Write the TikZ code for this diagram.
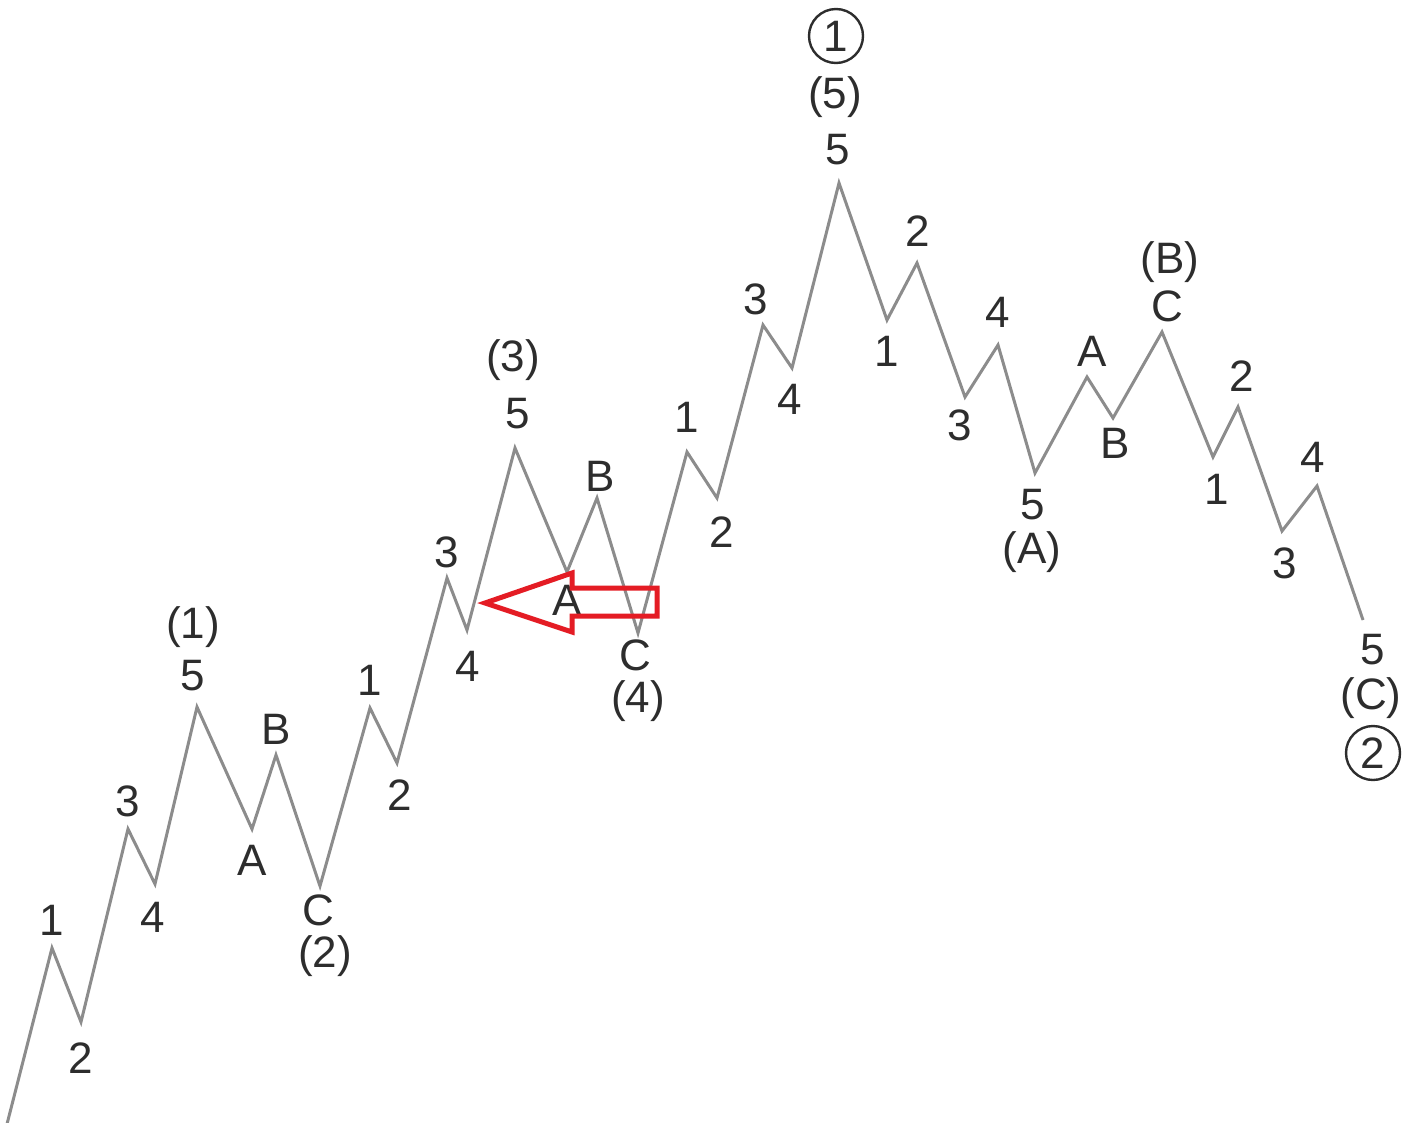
\documentclass[tikz,border=0pt]{standalone}
\usepackage{fontspec}
\setmainfont{Liberation Sans}
\definecolor{wavegray}{RGB}{140,140,140}
\definecolor{labelgray}{RGB}{45,45,45}
\definecolor{arrowred}{RGB}{228,28,36}
\begin{document}
\begin{tikzpicture}[x=1pt,y=-1pt,
  wave/.style={draw=wavegray,line width=3pt,line join=miter},
  lbl/.style={inner sep=0pt,text=labelgray,font=\fontsize{44}{48}\selectfont},
  circ/.style={lbl,draw=labelgray,circle,line width=2.4pt,minimum size=54pt},
  redarrow/.style={draw=arrowred,line width=5pt,line join=miter}]
\useasboundingbox (0,0) rectangle (1415,1122);
% wave vertices
\coordinate (w0) at (6,1128);
\coordinate (w1) at (52,948);
\coordinate (w2) at (81,1022);
\coordinate (w3) at (128,829);
\coordinate (w4) at (155,884);
\coordinate (w5) at (197,707);
\coordinate (wA) at (252,829);
\coordinate (wB) at (276,755);
\coordinate (wC) at (320,886);
\coordinate (x1) at (370,708);
\coordinate (x2) at (397,763);
\coordinate (x3) at (447,578);
\coordinate (x4) at (467,630);
\coordinate (x5) at (515,448);
\coordinate (xA) at (567,572);
\coordinate (xB) at (597,498);
\coordinate (xC) at (638,633);
\coordinate (y1) at (687,452);
\coordinate (y2) at (717,498);
\coordinate (y3) at (763,325);
\coordinate (y4) at (792,368);
\coordinate (y5) at (839,183);
\coordinate (z1) at (887,320);
\coordinate (z2) at (917,263);
\coordinate (z3) at (965,397);
\coordinate (z4) at (998,345);
\coordinate (z5) at (1035,473);
\coordinate (zA) at (1087,377);
\coordinate (zB) at (1113,418);
\coordinate (zC) at (1162,332);
\coordinate (v1) at (1213,457);
\coordinate (v2) at (1238,407);
\coordinate (v3) at (1282,531);
\coordinate (v4) at (1317,486);
\coordinate (v5) at (1363,620);
\draw[wave] (w0) -- (w1) -- (w2) -- (w3) -- (w4) -- (w5) -- (wA) -- (wB) -- (wC)
  -- (x1) -- (x2) -- (x3) -- (x4) -- (x5) -- (xA) -- (xB) -- (xC)
  -- (y1) -- (y2) -- (y3) -- (y4) -- (y5)
  -- (z1) -- (z2) -- (z3) -- (z4) -- (z5) -- (zA) -- (zB) -- (zC)
  -- (v1) -- (v2) -- (v3) -- (v4) -- (v5);
% labels wave (1) and (2)
\node[lbl] (l1) at (52,920) {1};
\node[lbl] (l2) at (81,1058) {2};
\node[lbl] (l3) at (128,801) {3};
\node[lbl] (l4) at (153,917) {4};
\node[lbl] (l5) at (193,676) {5};
\node[lbl] (lp1) at (193,627) {(1)};
\node[lbl] (lA) at (252,860) {A};
\node[lbl] (lB) at (276,729) {B};
\node[lbl] (lC) at (318,910) {C};
\node[lbl] (lp2) at (325,956) {(2)};
% labels wave (3) and (4)
\node[lbl] (m1) at (370,680) {1};
\node[lbl] (m2) at (400,795) {2};
\node[lbl] (m3) at (447,552) {3};
\node[lbl] (m4) at (468,666) {4};
\node[lbl] (m5) at (518,414) {5};
\node[lbl] (mp3) at (513,360) {(3)};
\node[lbl] (mA) at (567,600) {A};
\node[lbl] (mB) at (600,476) {B};
\node[lbl] (mC) at (635,655) {C};
\node[lbl] (mp4) at (638,701) {(4)};
% labels wave (5)
\node[lbl] (n1) at (687,417) {1};
\node[lbl] (n2) at (722,532) {2};
\node[lbl] (n3) at (756,299) {3};
\node[lbl] (n4) at (790,399) {4};
\node[lbl] (n5) at (838,150) {5};
\node[lbl] (np5) at (835,97) {(5)};
\node[circ] (c1) at (836,36) {1};
% labels wave (A)
\node[lbl] (o1) at (887,351) {1};
\node[lbl] (o2) at (918,231) {2};
\node[lbl] (o3) at (960,425) {3};
\node[lbl] (o4) at (998,312) {4};
\node[lbl] (o5) at (1033,505) {5};
\node[lbl] (opA) at (1032,552) {(A)};
% labels wave (B)
\node[lbl] (pA) at (1092,351) {A};
\node[lbl] (pB) at (1115,443) {B};
\node[lbl] (pC) at (1167,306) {C};
\node[lbl] (ppB) at (1170,262) {(B)};
% labels wave (C)
\node[lbl] (q1) at (1217,489) {1};
\node[lbl] (q2) at (1242,376) {2};
\node[lbl] (q3) at (1285,563) {3};
\node[lbl] (q4) at (1313,457) {4};
\node[lbl] (q5) at (1373,650) {5};
\node[lbl] (qpC) at (1371,698) {(C)};
\node[circ] (c2) at (1373,753) {2};
% red arrow
\coordinate (rt) at (485,603);
\coordinate (rh1) at (572,573);
\coordinate (rh2) at (572,588);
\coordinate (rs1) at (657,588);
\coordinate (rs2) at (657,616);
\coordinate (rh3) at (572,616);
\coordinate (rh4) at (572,632);
\draw[redarrow] (rt) -- (rh1) -- (rh2) -- (rs1) -- (rs2) -- (rh3) -- (rh4) -- cycle;
\end{tikzpicture}
\end{document}
